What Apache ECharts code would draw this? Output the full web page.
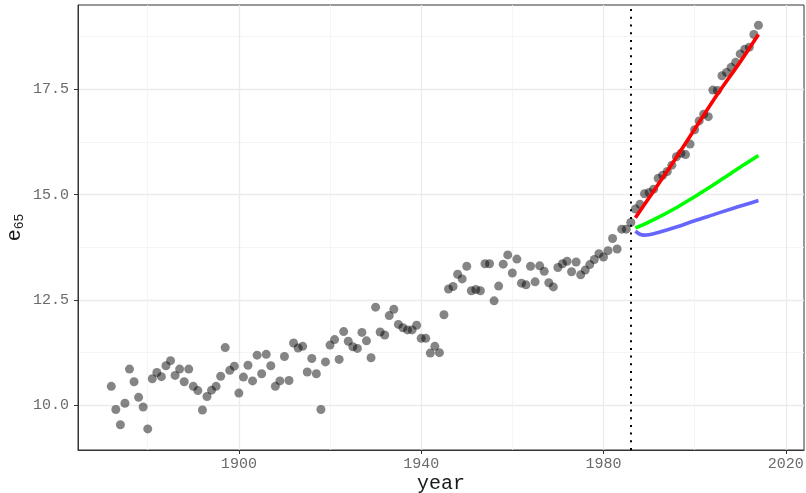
<!DOCTYPE html>
<html>
<head>
<meta charset="utf-8">
<script src="https://cdn.jsdelivr.net/npm/echarts@6/dist/echarts.min.js"></script>
<style>
html,body{margin:0;padding:0;background:#fff;}
#chart{width:806px;height:493px;}
</style>
</head>
<body>
<div id="chart"></div>
<script>
const years = [
  1872,1873,1874,1875,1876,1877,1878,1879,1880,1881,
  1882,1883,1884,1885,1886,1887,1888,1889,1890,1891,
  1892,1893,1894,1895,1896,1897,1898,1899,1900,1901,
  1902,1903,1904,1905,1906,1907,1908,1909,1910,1911,
  1912,1913,1914,1915,1916,1917,1918,1919,1920,1921,
  1922,1923,1924,1925,1926,1927,1928,1929,1930,1931,
  1932,1933,1934,1935,1936,1937,1938,1939,1940,1941,
  1942,1943,1944,1945,1946,1947,1948,1949,1950,1951,
  1952,1953,1954,1955,1956,1957,1958,1959,1960,1961,
  1962,1963,1964,1965,1966,1967,1968,1969,1970,1971,
  1972,1973,1974,1975,1976,1977,1978,1979,1980,1981,
  1982,1983,1984,1985,1986,1987,1988,1989,1990,1991,
  1992,1993,1994,1995,1996,1997,1998,1999,2000,2001,
  2002,2003,2004,2005,2006,2007,2008,2009,2010,2011,
  2012,2013,2014
];
const e65 = [
  10.45, 9.90, 9.54,10.05,10.86,10.56,10.19, 9.96, 9.44,10.63,
  10.78,10.68,10.94,11.06,10.71,10.86,10.56,10.86,10.45,10.35,
   9.89,10.21,10.36,10.45,10.69,11.37,10.83,10.93,10.29,10.67,
  10.95,10.58,11.19,10.75,11.21,10.94,10.45,10.58,11.16,10.59,
  11.48,11.36,11.40,10.79,11.11,10.75, 9.90,11.03,11.43,11.56,
  11.09,11.75,11.52,11.39,11.35,11.73,11.53,11.13,12.33,11.74,
  11.67,12.13,12.28,11.92,11.84,11.79,11.79,11.90,11.59,11.59,
  11.24,11.40,11.25,12.15,12.76,12.82,13.11,13.00,13.30,12.72,
  12.75,12.72,13.36,13.36,12.48,12.83,13.35,13.57,13.14,13.47,
  12.90,12.86,13.30,12.93,13.31,13.18,12.91,12.81,13.27,13.36,
  13.42,13.17,13.40,13.10,13.21,13.34,13.46,13.60,13.52,13.67,
  13.96,13.71,14.18,14.18,14.34,14.66,14.77,15.02,15.05,15.13,
  15.39,15.46,15.55,15.70,15.90,15.98,15.95,16.20,16.54,16.75,
  16.91,16.85,17.48,17.47,17.82,17.90,18.02,18.14,18.34,18.45,
  18.50,18.80,19.02
];
const redYears   = [1987, 1995, 2000, 2005, 2010, 2014];
const redVals    = [14.45, 15.72, 16.55, 17.38, 18.15, 18.80];
const greenYears = [1987, 1989, 1992, 1996, 2000, 2004, 2008, 2011, 2014];
const greenVals  = [14.21, 14.30, 14.46, 14.69, 14.95, 15.22, 15.51, 15.72, 15.93];
const blueYears  = [1987, 1988, 1989, 1990, 1992, 1996, 2000, 2004, 2008, 2011, 2014];
const blueVals   = [14.13, 14.06, 14.04, 14.05, 14.10, 14.23, 14.38, 14.52, 14.66, 14.76, 14.86];
const cutYear = 1986;
const xMajor = [1900, 1940, 1980, 2020];
const xMinor = [1880, 1920, 1960, 2000];
const yMajor = [10, 12.5, 15, 17.5];
const yMinor = [11.25, 13.75, 16.25, 18.75];
const xLabels = ['1900', '1940', '1980', '2020'];
const yLabels = ['10.0', '12.5', '15.0', '17.5'];

const pairs = (xs, ys) => xs.map((x, i) => [x, ys[i]]);
const mono = "'Courier New', 'Liberation Mono', monospace";
const XMIN = 1864.7, XMAX = 2024.0, YMIN = 8.94, YMAX = 19.5;

const chart = echarts.init(document.getElementById('chart'), null, {renderer: 'canvas'});
chart.setOption({
  animation: false,
  backgroundColor: '#ffffff',
  grid: {left: 78, right: 2, top: 5, bottom: 43, containLabel: false, outerBoundsMode: 'none',
         show: true, borderColor: '#333333', borderWidth: 1, backgroundColor: 'transparent'},
  xAxis: [
    {
      type: 'value', min: XMIN, max: XMAX, gridIndex: 0,
      name: 'year', nameLocation: 'middle', nameGap: 24, nameMoveOverlap: false,
      nameTextStyle: {fontFamily: mono, fontSize: 20, color: '#1a1a1a', verticalAlign: 'top'},
      axisLine: {show: true, onZero: false, lineStyle: {color: '#333333', width: 1}},
      axisTick: {show: true, length: 4, customValues: xMajor, lineStyle: {color: '#333333', width: 1}},
      axisLabel: {customValues: xMajor, formatter: v => xLabels[xMajor.indexOf(v)] ?? String(v), fontFamily: mono, fontSize: 15, color: '#6a6a6a', margin: 7},
      splitLine: {show: true, lineStyle: {color: '#ebebeb', width: 1.3}}
    },
    {
      type: 'value', min: XMIN, max: XMAX, gridIndex: 0, position: 'top',
      axisLine: {show: false}, axisLabel: {show: false},
      axisTick: {show: false, customValues: xMinor},
      splitLine: {show: true, lineStyle: {color: '#f2f2f2', width: 0.8}}
    }
  ],
  yAxis: [
    {
      type: 'value', min: YMIN, max: YMAX, gridIndex: 0,
      name: '{e|e}{s|65}', nameLocation: 'middle', nameGap: 52, nameRotate: 90, nameMoveOverlap: false,
      nameTextStyle: {
        color: '#1a1a1a',
        rich: {
          e: {fontFamily: mono, fontSize: 20, color: '#1a1a1a', lineHeight: 22},
          s: {fontFamily: mono, fontSize: 13, color: '#1a1a1a', verticalAlign: 'bottom', lineHeight: 14, padding: [6, 0, 0, 0]}
        }
      },
      axisLine: {show: true, onZero: false, lineStyle: {color: '#333333', width: 1}},
      axisTick: {show: true, length: 4, customValues: yMajor, lineStyle: {color: '#333333', width: 1}},
      axisLabel: {customValues: yMajor, formatter: v => yLabels[yMajor.indexOf(v)] ?? String(v), fontFamily: mono, fontSize: 15, color: '#6a6a6a', margin: 9},
      splitLine: {show: true, lineStyle: {color: '#ebebeb', width: 1.3}}
    },
    {
      type: 'value', min: YMIN, max: YMAX, gridIndex: 0, position: 'right',
      axisLine: {show: false}, axisLabel: {show: false},
      axisTick: {show: false, customValues: yMinor},
      splitLine: {show: true, lineStyle: {color: '#f2f2f2', width: 0.8}}
    }
  ],
  series: [
    {
      type: 'scatter', xAxisIndex: 0, yAxisIndex: 0, z: 2,
      data: pairs(years, e65),
      symbol: 'circle', symbolSize: 9,
      itemStyle: {color: 'rgba(0,0,0,0.6)', borderWidth: 0},
      silent: true
    },
    {
      type: 'line', xAxisIndex: 0, yAxisIndex: 0, z: 3, data: [],
      markLine: {
        silent: true, symbol: ['none', 'none'], label: {show: false},
        lineStyle: {color: '#000000', width: 2, type: [2, 5.7], cap: 'butt'},
        data: [{xAxis: cutYear}]
      }
    },
    {
      type: 'line', xAxisIndex: 0, yAxisIndex: 0, z: 4,
      data: pairs(redYears, redVals), showSymbol: false, smooth: 0.3,
      lineStyle: {color: '#ff0000', width: 3.6}, itemStyle: {color: '#ff0000'}, silent: true
    },
    {
      type: 'line', xAxisIndex: 0, yAxisIndex: 0, z: 4,
      data: pairs(greenYears, greenVals), showSymbol: false, smooth: 0.3,
      lineStyle: {color: '#00ff00', width: 3.6}, itemStyle: {color: '#00ff00'}, silent: true
    },
    {
      type: 'line', xAxisIndex: 0, yAxisIndex: 0, z: 4,
      data: pairs(blueYears, blueVals), showSymbol: false, smooth: 0.3,
      lineStyle: {color: 'rgba(0,0,255,0.6)', width: 3.6}, itemStyle: {color: 'rgba(0,0,255,0.6)'}, silent: true
    }
  ]
});
</script>
</body>
</html>
